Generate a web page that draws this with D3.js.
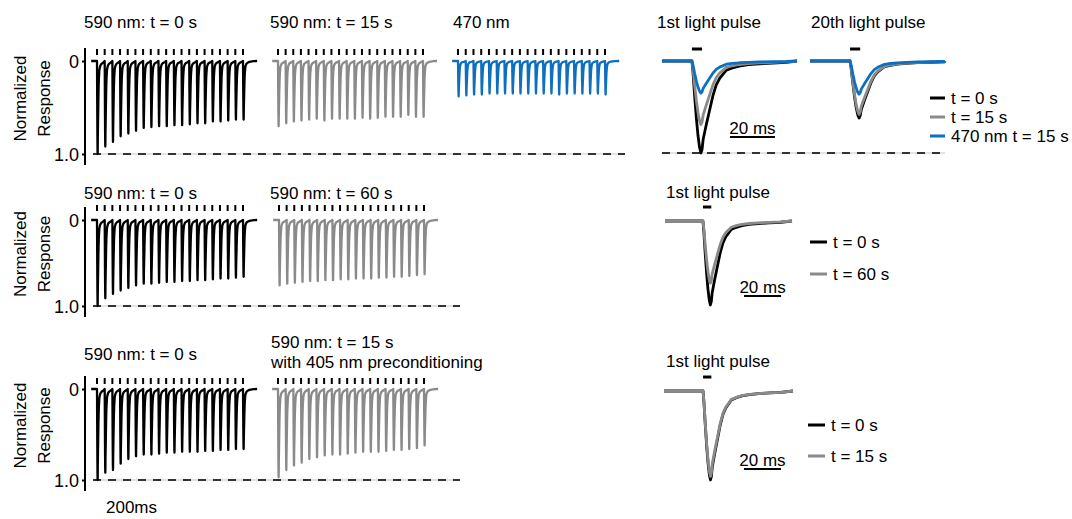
<!DOCTYPE html>
<html><head><meta charset="utf-8">
<script src="https://cdn.jsdelivr.net/npm/d3@7"></script>
<style>
body{margin:0;background:#fff}
text{font-family:"Liberation Sans",Arial,Helvetica,sans-serif;fill:#000}
</style>
</head><body>
<svg id="c" width="1072" height="519"></svg>
<script>
// ---------------- DATA ----------------
// stimulus pulse onsets within a train (ms)
const pulseTimesMs = [0,50,100,150,200,250,300,350,400,450,500,550,600,650,700,750,800,850,900,950];
// normalized peak responses for each of the 20 pulses
const row1_590_t0   = [1.00,0.92,0.87,0.81,0.78,0.75,0.72,0.71,0.70,0.70,0.69,0.69,0.68,0.67,0.67,0.65,0.65,0.64,0.63,0.63];
const row1_590_t15  = [0.70,0.67,0.65,0.64,0.63,0.62,0.64,0.62,0.62,0.62,0.62,0.61,0.62,0.61,0.60,0.60,0.60,0.58,0.60,0.60];
const row1_470      = [0.38,0.37,0.36,0.36,0.35,0.35,0.35,0.35,0.35,0.35,0.35,0.35,0.35,0.36,0.35,0.35,0.35,0.35,0.35,0.36];
const row2_590_t0   = [1.00,0.91,0.86,0.82,0.79,0.76,0.74,0.74,0.73,0.72,0.72,0.71,0.71,0.70,0.70,0.69,0.68,0.68,0.67,0.66];
const row2_590_t60  = [0.76,0.74,0.73,0.72,0.71,0.71,0.70,0.70,0.69,0.69,0.68,0.68,0.68,0.67,0.67,0.66,0.66,0.65,0.64,0.63];
const row3_590_t0   = [1.00,0.92,0.89,0.82,0.77,0.74,0.72,0.72,0.71,0.70,0.70,0.69,0.69,0.69,0.68,0.68,0.67,0.67,0.66,0.66];
const row3_590_t15p = [0.97,0.89,0.84,0.81,0.77,0.75,0.73,0.72,0.72,0.71,0.70,0.69,0.69,0.69,0.68,0.67,0.67,0.66,0.65,0.62];
// single-response waveform shape read from the 1st light pulse (ms after onset, normalized)
const templateMs  = [0,0.5,1.2,2.0,2.7,3.4,4.0,4.5,5.0,6.4,7.9,9.3,10.8,12.3,15.3,18,21,25,30,36,42,50,60,70,90];
const templateAmp = [0,0.13,0.38,0.63,0.81,0.94,1.0,0.96,0.85,0.69,0.53,0.38,0.26,0.19,0.10,0.075,0.055,0.04,0.03,0.022,0.015,0.01,0.006,0.003,0];
// single-pulse comparison panels (peaks)
const r1FirstLabels = ["t = 0 s","t = 15 s","470 nm t = 15 s"];
const r1FirstPeaks  = [1.00,0.69,0.35];
const r1TwentiethPeaks = [0.62,0.58,0.36];
const r2FirstLabels = ["t = 0 s","t = 60 s"];
const r2FirstPeaks  = [1.00,0.74];
const r3FirstLabels = ["t = 0 s","t = 15 s"];
const r3FirstPeaks  = [1.00,0.96];
const yTickValues = [0,1];
const yTickLabels = ["0","1.0"];
const lightPulseMs = 4.5;
const scaleBarMs = 20;

// ---------------- STYLE ----------------
const BLACK="#000000", GRAY="#8a8a8a", BLUE="#0f6fbf";
const svg = d3.select("#c");
svg.append("rect").attr("width",1072).attr("height",519).attr("fill","#fff");

const rows = [
  {y0:61,  y1:154, markY:49},
  {y0:220, y1:306, markY:205},
  {y0:389, y1:480, markY:378}
];
rows.forEach(r => r.ys = d3.scaleLinear().domain([0,1]).range([r.y0,r.y1]));

const line = (xs, ys) => d3.line().x(d=>xs(d[0])).y(d=>ys(d[1]));

function trainPoints(peaks, preMs, postMs){
  const pts=[[pulseTimesMs[0]-preMs,0]];
  peaks.forEach((p,i)=>{
    const lim = i<pulseTimesMs.length-1 ? pulseTimesMs[i+1]-pulseTimesMs[i] : postMs;
    templateMs.forEach((t,k)=>{ if(t<lim) pts.push([pulseTimesMs[i]+t, p*templateAmp[k]]); });
  });
  pts.push([pulseTimesMs[pulseTimesMs.length-1]+postMs,0]);
  return pts;
}
function pulsePoints(peak, preMs, postMs){
  const pts=[[-preMs,0]];
  templateMs.forEach((t,k)=>{ if(t<postMs) pts.push([t, peak*templateAmp[k]]); });
  pts.push([postMs,0]);
  return pts;
}

// dashed 1.0 reference lines
function refLine(y, xA, xB){
  svg.append("line").attr("x1",xA).attr("x2",xB).attr("y1",y).attr("y2",y)
    .attr("stroke","#c8c8c8").attr("stroke-width",1);
  svg.append("line").attr("x1",xA).attr("x2",xB).attr("y1",y).attr("y2",y)
    .attr("stroke","#333").attr("stroke-width",2.2).attr("stroke-dasharray","8,7");
}
refLine(rows[0].ys(1), 93, 625);
refLine(rows[0].ys(1)-1, 662, 945);
refLine(rows[1].ys(1), 93, 460);
refLine(rows[2].ys(1), 93, 460);

// trains
const trains = [
  {row:0, peaks:row1_590_t0,  color:BLACK, xa:97,  xb:243},
  {row:0, peaks:row1_590_t15, color:GRAY,  xa:278, xb:423},
  {row:0, peaks:row1_470,     color:BLUE,  xa:458, xb:605},
  {row:1, peaks:row2_590_t0,  color:BLACK, xa:97,  xb:243},
  {row:1, peaks:row2_590_t60, color:GRAY,  xa:279, xb:424},
  {row:2, peaks:row3_590_t0,  color:BLACK, xa:97,  xb:243},
  {row:2, peaks:row3_590_t15p,color:GRAY,  xa:278, xb:424}
];
trains.forEach(tr=>{
  const r = rows[tr.row];
  const xs = d3.scaleLinear().domain([pulseTimesMs[0], pulseTimesMs[pulseTimesMs.length-1]]).range([tr.xa, tr.xb]);
  svg.append("path").datum(trainPoints(tr.peaks, 38, 92))
    .attr("d", line(xs, r.ys)).attr("fill","none").attr("stroke",tr.color)
    .attr("stroke-width",2.3).attr("stroke-linejoin","round");
  svg.append("g").selectAll("rect").data(pulseTimesMs).join("rect")
    .attr("x",d=>xs(d)-1).attr("y",r.markY).attr("width",2).attr("height",6).attr("fill","#000");
});

// y axes
rows.forEach(r=>{
  const ax = d3.axisLeft(r.ys).tickValues(yTickValues).tickFormat((d,i)=>yTickLabels[i]).tickSize(3).tickPadding(3);
  const g = svg.append("g").attr("transform","translate(85,0)").call(ax);
  g.select(".domain").remove();
  g.selectAll(".tick line").attr("stroke","#000").attr("stroke-width",2);
  g.selectAll(".tick text").attr("font-size",18).attr("dy","0.36em").style("font-family","Liberation Sans, Arial, sans-serif");
  g.append("line").attr("x1",0).attr("x2",0).attr("y1",r.y0-13).attr("y2",r.y1+11)
    .attr("stroke","#000").attr("stroke-width",2);
  const cy = (r.y0+r.y1)/2 - 9;
  svg.append("text").attr("transform",`translate(20,${cy}) rotate(-90)`)
    .attr("text-anchor","middle").attr("font-size",17).attr("dy","0.35em").text("Normalized");
  svg.append("text").attr("transform",`translate(44,${cy}) rotate(-90)`)
    .attr("text-anchor","middle").attr("font-size",17).attr("dy","0.35em").text("Response");
});

// single-pulse panels
function pulsePanel(cfg){
  const xs = d3.scaleLinear().domain([-cfg.pre, cfg.post]).range([cfg.xa, cfg.xb]);
  const ys = d3.scaleLinear().domain([0,1]).range([cfg.y0, cfg.y1]);
  cfg.peaks.forEach((p,i)=>{
    svg.append("path").datum(pulsePoints(p, cfg.pre, cfg.post))
      .attr("d", line(xs, ys)).attr("fill","none").attr("stroke",cfg.colors[i])
      .attr("stroke-width",2.8).attr("stroke-linejoin","round");
  });
  svg.append("line").attr("x1",xs(0)).attr("x2",xs(lightPulseMs)).attr("y1",cfg.barY).attr("y2",cfg.barY)
    .attr("stroke","#000").attr("stroke-width",3);
  if(cfg.sb){
    svg.append("line").attr("x1",xs(cfg.sb.t)).attr("x2",xs(cfg.sb.t+scaleBarMs))
      .attr("y1",cfg.sb.y).attr("y2",cfg.sb.y).attr("stroke","#000").attr("stroke-width",2);
    svg.append("text").attr("x",(xs(cfg.sb.t)+xs(cfg.sb.t+scaleBarMs))/2).attr("y",cfg.sb.y-3)
      .attr("text-anchor","middle").attr("font-size",17).text(scaleBarMs+" ms");
  }
}
pulsePanel({xa:662,xb:797,pre:13.3,post:46.7,y0:61,y1:153,peaks:r1FirstPeaks,colors:[BLACK,GRAY,BLUE],barY:49,sb:{t:16.9,y:137}});
pulsePanel({xa:810,xb:945,pre:17.8,post:42.2,y0:61,y1:153,peaks:r1TwentiethPeaks,colors:[BLACK,GRAY,BLUE],barY:49});
pulsePanel({xa:665,xb:792,pre:20.5,post:48.1,y0:221,y1:305,peaks:r2FirstPeaks,colors:[BLACK,GRAY],barY:207,sb:{t:22.2,y:296}});
pulsePanel({xa:664,xb:793,pre:21.1,post:48.6,y0:391,y1:480,peaks:r3FirstPeaks,colors:[BLACK,GRAY],barY:377,sb:{t:22.1,y:469}});

// legends
function legend(labels, colors, xa, xb, ys){
  labels.forEach((l,i)=>{
    svg.append("line").attr("x1",xa).attr("x2",xb).attr("y1",ys[i]).attr("y2",ys[i])
      .attr("stroke",colors[i]).attr("stroke-width",3);
    svg.append("text").attr("x",xb+6).attr("y",ys[i]).attr("dy","0.36em").attr("font-size",17).text(l);
  });
}
legend(r1FirstLabels,[BLACK,GRAY,BLUE],930,945,[98,117,136]);
legend(r2FirstLabels,[BLACK,GRAY],810,827,[242,274]);
legend(r3FirstLabels,[BLACK,GRAY],808,825,[425,456]);

// titles
const titles = [
  ["590 nm: t = 0 s",84,28],["590 nm: t = 15 s",270,28],["470 nm",453,28],
  ["1st light pulse",657,28],["20th light pulse",811,28],
  ["590 nm: t = 0 s",84,199],["590 nm: t = 60 s",270,199],["1st light pulse",666,198],
  ["590 nm: t = 0 s",84,360],["590 nm: t = 15 s",271,348],["with 405 nm preconditioning",271,368],
  ["1st light pulse",666,367],["200ms",106,513]
];
titles.forEach(t=>svg.append("text").attr("x",t[1]).attr("y",t[2]).attr("font-size",17).text(t[0]));
</script>
</body></html>
